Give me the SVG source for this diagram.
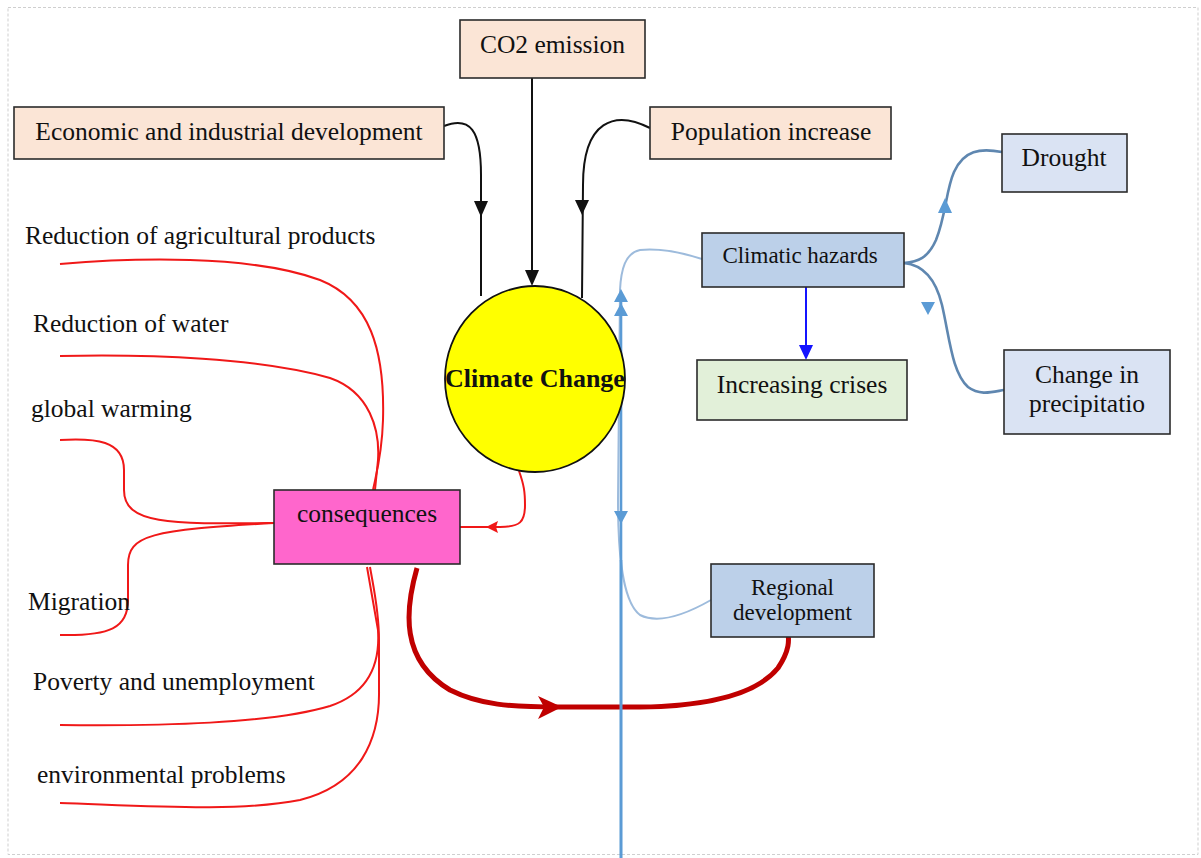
<svg xmlns="http://www.w3.org/2000/svg" width="1201" height="858" viewBox="0 0 1201 858">
<style>
  .box{stroke:#2b2b2b;stroke-width:1.6}
  .t{font-family:"Liberation Serif","Times New Roman",serif;font-size:25.5px;fill:#111}
  .ts{font-family:"Liberation Serif","Times New Roman",serif;font-size:23px;fill:#111}
  .c{text-anchor:middle}
  .blk{fill:none;stroke:#111;stroke-width:2}
  .red{fill:none;stroke:#f01818;stroke-width:2}
  .stl{fill:none;stroke:#5f87b0;stroke-width:2.6}
  .lb{fill:none;stroke:#9dbbdc;stroke-width:2}
</style>
<defs>
  <clipPath id="circ"><ellipse cx="535" cy="379" rx="90" ry="93"/></clipPath>
</defs>
<rect width="1201" height="858" fill="#ffffff"/>
<rect x="8" y="7.5" width="1190" height="847" fill="none" stroke="#cfcfcf" stroke-width="1" stroke-dasharray="3,2"/>

<g id="connectors">
  <!-- black inputs -->
  <path class="blk" d="M444,126 C470,116 481,130 481,175 L481,296"/>
  <polygon points="474,201 488,201 481,217" fill="#111"/>
  <path class="blk" d="M532,78 L532,272"/>
  <polygon points="525,270 539,270 532,286" fill="#111"/>
  <path class="blk" d="M650,128 C615,110 583,120 583,185 L582,298"/>
  <polygon points="575,200 589,200 582,215" fill="#111"/>

  <!-- red consequences lines -->
  <path class="red" d="M60,264 C130,258 250,254 320,280 C370,300 385,350 383,420 C382,455 376,475 373,490"/>
  <path class="red" d="M60,356 C150,354 260,358 330,378 C370,392 380,430 378,460 L375,490"/>
  <path class="red" d="M60,440 C95,438 124,440 124,470 L124,490 C124,525 170,524 274,523"/>
  <path class="red" d="M60,635 C110,636 128,628 128,600 L128,565 C128,535 150,530 274,523"/>
  <path class="red" d="M60,725 C160,726 270,724 330,706 C372,692 380,660 378,630 L367,567"/>
  <path class="red" d="M60,803 C150,806 240,812 300,800 C360,785 380,740 379,690 L379,640 C379,610 373,585 370,567"/>
  <path class="red" d="M519,471 C524,485 525,492 525,505 C525,522 520,527 500,527 L460,527"/>
  <polygon points="486,527 498,521 496,527 498,533" fill="#f01818"/>

  <!-- thick dark red -->
  <path d="M417,568 C405,610 400,660 450,690 C480,705 510,707 560,707 L640,707 C720,706 760,690 778,668 C790,650 789,640 788,632" fill="none" stroke="#c00000" stroke-width="5"/>
  <polygon points="562,707 538,696 544,707 538,719" fill="#c00000"/>

  <!-- right side blue -->
  <path class="stl" d="M904,263 C918,262 928,258 936,240 C946,215 946,190 954,172 C964,150 980,148 1002,152"/>
  <polygon points="945,198 938,213 952,213" fill="#5b9bd5"/>
  <path class="stl" d="M904,263 C924,265 936,280 942,305 C950,340 952,372 968,387 C980,396 992,392 1004,390"/>
  <polygon points="921,302 935,302 928,315" fill="#5b9bd5"/>
  <path d="M806,287 L806,347" fill="none" stroke="#1414ff" stroke-width="2"/>
  <polygon points="799,345 813,345 806,360" fill="#1414ff"/>

  <!-- light blue curve climatic hazards - regional development -->
  <path class="lb" d="M702,259 C680,252 660,248 640,250 C625,253 621,270 620,290 L618,500 C618,540 620,600 640,615 C660,625 690,612 711,600"/>
  <!-- vertical blue line -->
  <path d="M621,858 L621,300" fill="none" stroke="#5b9bd5" stroke-width="2.6"/>
  <polygon points="621,289 614,302 628,302" fill="#5b9bd5"/>
  <polygon points="621,303 614,316 628,316" fill="#5b9bd5"/>
  <polygon points="614,511 628,511 621,524" fill="#5b9bd5"/>
</g>

<g id="co2">
  <rect class="box" x="460" y="20" width="185" height="58" fill="#fbe5d6"/>
  <text class="t c" x="552.5" y="53">CO2 emission</text>
</g>
<g id="economic">
  <rect class="box" x="14" y="107" width="430" height="52" fill="#fbe5d6"/>
  <text class="t c" x="229" y="140">Economic and industrial development</text>
</g>
<g id="population">
  <rect class="box" x="650" y="107" width="241" height="52" fill="#fbe5d6"/>
  <text class="t c" x="771" y="140">Population increase</text>
</g>
<g id="drought">
  <rect class="box" x="1002" y="134" width="125" height="58" fill="#dae3f3"/>
  <text class="t c" x="1064" y="166">Drought</text>
</g>
<g id="hazards">
  <rect class="box" x="702" y="233" width="202" height="54" fill="#bcd0e9"/>
  <text class="ts c" x="800" y="263">Climatic hazards</text>
</g>
<g id="crises">
  <rect class="box" x="697" y="360" width="210" height="60" fill="#e2f0d9"/>
  <text class="t c" x="802" y="393">Increasing crises</text>
</g>
<g id="precipitation">
  <rect class="box" x="1004" y="350" width="166" height="84" fill="#dae3f3"/>
  <text class="t c" x="1087" y="383">Change in</text>
  <text class="t c" x="1087" y="412">precipitatio</text>
</g>
<g id="regional">
  <rect class="box" x="711" y="564" width="163" height="73" fill="#bcd0e9"/>
  <text class="ts c" x="792.5" y="595">Regional</text>
  <text class="ts c" x="792.5" y="620">development</text>
</g>
<g id="consequences">
  <rect class="box" x="274" y="490" width="186" height="74" fill="#ff66cc"/>
  <text class="t c" x="367" y="522" fill="#2a0a30">consequences</text>
</g>
<g id="climate">
  <ellipse cx="535" cy="379" rx="90" ry="93" fill="#ffff00" stroke="#111" stroke-width="1.8"/>
  <text clip-path="url(#circ)" x="535" y="387" text-anchor="middle" font-family="'Liberation Serif','Times New Roman',serif" font-size="26" font-weight="bold" fill="#111">Climate Change</text>
</g>
<g id="labels">
  <text class="t" x="25" y="244">Reduction of agricultural products</text>
  <text class="t" x="33" y="332">Reduction of water</text>
  <text class="t" x="31" y="417">global warming</text>
  <text class="t" x="28" y="610">Migration</text>
  <text class="t" x="33" y="690">Poverty and unemployment</text>
  <text class="t" x="37" y="783">environmental problems</text>
</g>
<path d="M621,858 L621,560" fill="none" stroke="#5b9bd5" stroke-width="2.6"/>
</svg>
